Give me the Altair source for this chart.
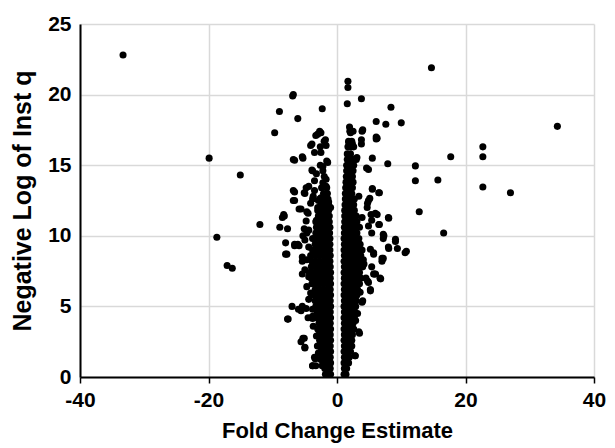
import altair as alt
import pandas as pd

# ---- scattered points (fold change, -log q) ----
left_x = [-33.3, -19.9, -15.05, -18.7, -17.1, -16.3, -12.0, -9.7, -8.96, -6.8, -6.9, -6.1, -2.3,
          -8.9, -8.3, -8.5, -8.0, -8.0, -7.8, -7.7, -6.8, -5.4, -6.8, -6.8, -5.9, -4.7, -6.6, -6.1,
          -5.4, -7.0, -6.0, -5.4, -5.6, -5.1, -5.0, -3.5, -3.8, -3.3, -4.5, -3.8,
          -3.0, -2.5, -2.0, -3.9, -2.6, -1.7, -3.5, -2.5, -6.6, -5.3, -1.45, -2.2, -3.8, -2.2,
          -1.98, -3.5, -2.2, -4.8, -1.7, -6.6, -5.1, -3.5, -6.6, -3.8, -2.5, -1.3, -5.6, -3.0,
          -1.0, -4.5, -8.2, -4.8, -7.7, -5.1, -5.3, -4.4, -4.7, -5.0, -4.4, -4.7, -5.0, -4.4,
          -4.7, -4.1, -4.4, -3.8, -3.7, -3.2, -3.05, -2.9, -2.6, -2.3, -4.1, -3.3, -1.6, -2.6,
          -3.9, -3.2, -4.4, -5.0, -3.7, -1.6, -2.9, -4.1, -2.3, -3.2, -2.7, -1.8,
          -6.6, -5.9, -5.4, -5.4, -5.6, -4.8, -7.6, -3.8, -5.3, -5.0, -3.4, -3.8]
left_y = [22.8, 15.5, 14.3, 9.9, 7.9, 7.7, 10.8, 17.3, 18.8, 20.0, 19.9, 18.3, 19.0,
          10.6, 11.5, 11.3, 9.5, 8.7, 8.7, 4.1, 15.4, 15.6, 13.2, 12.5, 11.9, 11.7, 9.4, 9.4,
          8.5, 5.0, 4.8, 5.0, 2.5, 2.75, 2.1, 1.4, 0.8, 0.8, 4.2, 4.3,
          17.2, 17.3, 16.7, 16.5, 16.3, 16.4, 15.9, 15.9, 15.35, 15.5, 15.2, 14.9, 14.6, 14.6,
          14.2, 13.9, 13.75, 13.4, 13.5, 13.1, 13.05, 13.2, 12.5, 12.6, 12.7, 12.4, 11.9, 12.0,
          12.0, 11.6, 11.4, 11.05, 10.5, 10.5, 10.0, 10.4, 10.2, 9.7, 9.2, 8.3, 7.6, 7.1,
          6.4, 5.95, 5.5, 4.8, 3.6, 2.9, 2.2, 1.7, 1.25, 0.8, 16.4, 17.1, 15.3, 15.0,
          14.65, 14.4, 13.5, 13.0, 12.8, 13.0, 12.5, 12.3, 11.6, 11.1, 17.4, 16.8,
          9.3, 9.3, 8.2, 7.3, 4.7, 4.85, 4.1, 4.15, 2.75, 2.05, 1.3, 0.8]

right_x = [14.7, 34.3, 22.7, 22.7, 22.7, 27.0, 17.7, 15.7, 12.2, 12.2, 12.8, 16.6, 10.0, 8.4,
           7.6, 6.1, 3.8, 1.7, 1.7, 1.6, 7.9, 6.1, 6.1, 4.0, 3.8, 3.8, 5.5, 10.8, 9.1, 9.4,
           8.0, 8.0, 7.2, 7.2, 6.6, 5.5, 6.6, 7.2, 6.7, 5.8, 5.2, 4.75, 4.0, 3.5, 2.8, 5.1,
           4.75, 5.97, 5.4, 4.6, 5.2, 5.7, 5.4, 4.1,
           1.95, 2.1, 3.9, 6.25, 1.84, 2.4, 2.1, 3.1, 4.9, 5.5, 6.5, 3.4, 4.9, 4.7, 5.3,
           6.25, 8.05, 3.9, 6.5, 4.9, 5.4, 8.05, 7.0, 5.7, 4.9, 5.2, 3.9, 3.4, 2.85, 4.5,
           4.2, 3.6, 3.2, 2.9, 7.3, 9.1, 10.6, 7.0, 5.7, 6.0, 6.8]
right_y = [21.9, 17.75, 16.3, 15.6, 13.45, 13.05, 15.6, 13.95, 14.95, 13.9, 11.7, 10.2, 18.0, 19.1,
           17.9, 18.1, 19.7, 20.95, 20.5, 19.35, 15.1, 17.0, 16.85, 17.5, 16.8, 16.5, 15.5, 8.9, 9.75, 9.1,
           9.2, 11.3, 10.1, 9.8, 13.05, 13.35, 10.8, 8.4, 7.0, 7.3, 6.2, 6.8, 5.4, 3.1, 1.5, 12.65,
           12.3, 11.6, 11.1, 14.8, 9.05, 8.8, 7.8, 8.3,
           17.7, 17.3, 17.4, 16.9, 16.6, 16.5, 15.5, 15.55, 14.7, 13.3, 13.05, 12.8, 12.5, 12.0, 11.5,
           11.5, 11.25, 11.3, 10.8, 10.7, 10.2, 9.1, 8.4, 7.3, 6.7, 6.1, 5.3, 3.2, 1.5, 7.0,
           8.0, 6.0, 4.5, 4.0, 10.0, 9.6, 8.8, 8.2, 8.7, 7.3, 6.95]

# ---- dense cores, read row by row: (-log q, [fold changes]) ----
left_core = [
    (0.2, [-1.0, -1.4, -1.8]), (0.6, [-1.05, -1.5, -1.9]), (1.0, [-1.0, -1.4, -1.9, -2.2]),
    (1.4, [-1.05, -1.5, -2.0, -2.4]), (1.8, [-1.0, -1.5, -2.0, -2.5]), (2.2, [-1.05, -1.5, -2.0, -2.6]),
    (2.6, [-1.0, -1.5, -2.1, -2.7]), (3.0, [-1.05, -1.6, -2.2, -2.8]), (3.4, [-1.0, -1.5, -2.1, -2.7, -3.0]),
    (3.8, [-1.05, -1.6, -2.2, -2.8]), (4.2, [-1.0, -1.5, -2.1, -2.7, -3.2]), (4.6, [-1.05, -1.6, -2.2, -2.8, -3.1]),
    (5.0, [-1.0, -1.5, -2.1, -2.7, -3.3]), (5.4, [-1.05, -1.6, -2.2, -2.8, -3.4]),
    (5.8, [-1.0, -1.5, -2.1, -2.7, -3.3, -3.7]), (6.2, [-1.05, -1.6, -2.2, -2.8, -3.4]),
    (6.6, [-1.0, -1.5, -2.1, -2.7, -3.3, -3.9]), (7.0, [-1.05, -1.6, -2.2, -2.8, -3.4, -4.0]),
    (7.4, [-1.0, -1.5, -2.1, -2.7, -3.3, -3.9, -4.3]), (7.8, [-1.05, -1.6, -2.2, -2.8, -3.4, -4.0]),
    (8.2, [-1.1, -1.6, -2.1, -2.7, -3.3, -3.9]), (8.6, [-1.05, -1.6, -2.2, -2.8, -3.4, -4.1]),
    (9.0, [-1.1, -1.6, -2.1, -2.7, -3.3, -3.8]), (9.4, [-1.1, -1.6, -2.2, -2.8, -3.4]),
    (9.8, [-1.1, -1.6, -2.1, -2.7, -3.3, -3.8]), (10.2, [-1.15, -1.6, -2.2, -2.8, -3.3]),
    (10.6, [-1.1, -1.6, -2.1, -2.7, -3.2]), (11.0, [-1.2, -1.7, -2.2, -2.8, -3.3]),
    (11.4, [-1.2, -1.7, -2.3, -2.9]), (11.8, [-1.3, -1.8, -2.4, -3.0]), (12.2, [-1.3, -1.9, -2.5]),
    (12.6, [-1.4, -2.0, -2.7]), (13.0, [-1.5, -2.1]), (13.4, [-1.6, -2.4]), (14.0, [-1.7]),
]
right_core = [
    (0.2, [1.1, 1.4]), (0.6, [1.15, 1.5]), (1.0, [1.1, 1.5, 1.8]), (1.4, [1.15, 1.6, 1.9]),
    (1.8, [1.1, 1.5, 1.9, 2.1]), (2.2, [1.15, 1.6, 2.0, 2.3]), (2.6, [1.1, 1.5, 1.9, 2.3]),
    (3.0, [1.15, 1.6, 2.0, 2.4]), (3.4, [1.1, 1.5, 1.9, 2.3, 2.6]), (3.8, [1.15, 1.6, 2.0, 2.5]),
    (4.2, [1.1, 1.5, 1.9, 2.3, 2.7]), (4.6, [1.15, 1.6, 2.0, 2.5, 2.8]), (5.0, [1.1, 1.5, 1.9, 2.4, 2.9]),
    (5.4, [1.15, 1.6, 2.0, 2.5, 3.0]), (5.8, [1.1, 1.5, 2.0, 2.5, 3.1]), (6.2, [1.15, 1.6, 2.1, 2.6, 3.2]),
    (6.6, [1.1, 1.5, 2.0, 2.5, 3.0, 3.5]), (7.0, [1.15, 1.6, 2.1, 2.6, 3.1, 3.7]),
    (7.4, [1.1, 1.5, 2.0, 2.5, 3.0, 3.5]), (7.8, [1.15, 1.6, 2.1, 2.6, 3.1, 3.6, 4.0]),
    (8.2, [1.1, 1.5, 2.0, 2.5, 3.0, 3.5]), (8.6, [1.15, 1.6, 2.1, 2.6, 3.1, 3.7]),
    (9.0, [1.1, 1.5, 2.0, 2.5, 3.0, 3.5, 3.9]), (9.4, [1.15, 1.6, 2.1, 2.6, 3.1, 3.6]),
    (9.8, [1.1, 1.5, 2.0, 2.5, 3.0, 3.4]), (10.2, [1.15, 1.6, 2.1, 2.6, 3.1]),
    (10.6, [1.15, 1.6, 2.0, 2.5, 3.0, 3.5]), (11.0, [1.2, 1.6, 2.1, 2.6, 3.1]),
    (11.4, [1.2, 1.6, 2.0, 2.5, 3.0]), (11.8, [1.2, 1.7, 2.2, 2.7]), (12.2, [1.25, 1.7, 2.1, 2.6]),
    (12.6, [1.3, 1.7, 2.2, 2.7]), (13.0, [1.3, 1.8, 2.3]), (13.4, [1.35, 1.8, 2.4]),
    (13.8, [1.4, 1.9, 2.5]), (14.2, [1.45, 1.9, 2.4]), (14.6, [1.5, 2.0, 2.5]),
    (15.0, [1.5, 2.0, 2.6]), (15.4, [1.6, 2.1, 2.7, 3.0]), (15.8, [1.6, 2.1]),
    (16.3, [1.7, 2.2, 2.6]), (16.7, [1.8, 2.3]), (17.4, [2.0, 2.5]),
]

x_ticks = [-40, -20, 0, 20, 40]
y_ticks = [0, 5, 10, 15, 20, 25]

rows = []
for xs, ys in ((left_x, left_y), (right_x, right_y)):
    for a, b in zip(xs, ys):
        rows.append({"fc": a, "q": b})
for core in (left_core, right_core):
    for yv, xs in core:
        for a in xs:
            rows.append({"fc": a, "q": yv})
df = pd.DataFrame(rows)

FONT = "Liberation Sans, Arial, sans-serif"

chart = alt.Chart(df).mark_circle(size=50, color="black", opacity=1).encode(
    x=alt.X("fc:Q", title="Fold Change Estimate",
            scale=alt.Scale(domain=[-40, 40], nice=False),
            axis=alt.Axis(values=x_ticks, grid=True, gridColor="#d9d9d9", gridWidth=1.5,
                          domainColor="black", domainWidth=2, tickColor="black", tickWidth=1.5,
                          tickSize=6, labelExpr="'' + datum.value", labelFlush=False,
                          labelFont=FONT, labelFontSize=21, labelFontWeight="bold",
                          labelColor="black", labelPadding=6, titleFont=FONT, titleFontSize=22,
                          titleFontWeight="bold", titleColor="black", titlePadding=10)),
    y=alt.Y("q:Q", title="Negative Log of Inst q",
            scale=alt.Scale(domain=[0, 25], nice=False),
            axis=alt.Axis(values=y_ticks, grid=True, gridColor="#d9d9d9", gridWidth=1.5,
                          domainColor="black", domainWidth=2, ticks=False, labelFlush=False,
                          labelFont=FONT, labelFontSize=21, labelFontWeight="bold",
                          labelColor="black", labelPadding=9, titleFont=FONT, titleFontSize=25,
                          titleFontWeight="bold", titleColor="black", titlePadding=12)),
).properties(
    width=514, height=353,
    autosize=alt.AutoSizeParams(type="none"),
    padding={"left": 72, "top": 16, "right": 13, "bottom": 70},
).configure_view(stroke=None)

chart.save("out.html", embed_options={"renderer": "svg", "actions": False})
